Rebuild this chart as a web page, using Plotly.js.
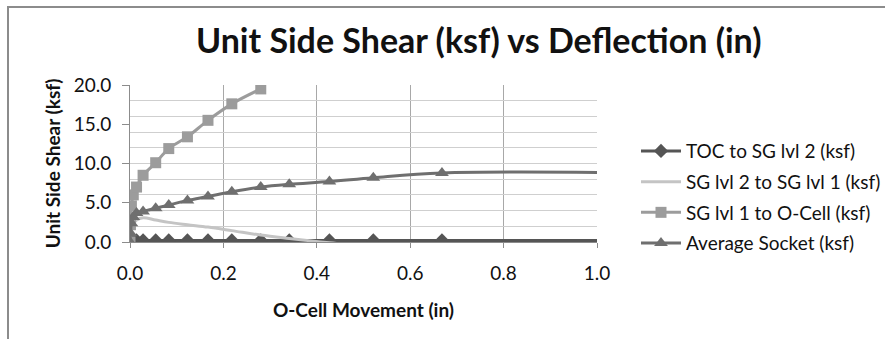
<!DOCTYPE html>
<html>
<head>
<meta charset="utf-8">
<script src="https://cdn.plot.ly/plotly-3.0.1.min.js"></script>
<style>
  html, body { margin: 0; padding: 0; background: #fff; }
  #wrap { position: relative; width: 885px; height: 339px; overflow: hidden; }
  #chart { position: absolute; left: 0; top: 0; width: 885px; height: 339px; }
  #frame { position: absolute; left: 7px; top: 6px; width: 900px; height: 400px;
           border-left: 2px solid #8c8c8c; border-top: 2px solid #8c8c8c; pointer-events: none; }
</style>
</head>
<body>
<div id="wrap">
  <div id="chart"></div>
  <div id="frame"></div>
</div>
<script>
// O-Cell movement (in), shared by all series
const movement = [0, 0.001, 0.003, 0.007, 0.014, 0.028, 0.055, 0.083, 0.123, 0.167, 0.218, 0.280, 0.341, 0.427, 0.521, 0.668, 1.2];

// Unit side shear (ksf)
const tocToSg2   = [0, 0.2, 0.2, 0.2, 0.2, 0.2, 0.2, 0.2, 0.2, 0.2, 0.2, 0.2, 0.2, 0.2, 0.2, 0.2, 0.2];
const sg2ToSg1   = [0, 0.8, 1.6, 2.3, 2.8, 3.1, 2.8, 2.5, 2.2, 1.9, 1.45, 0.88, 0.45, -0.1, -0.6, -1.2, -2.5];
const sg1ToOCell = [0, 2.2, 4.6, 6.0, 7.0, 8.5, 10.1, 11.9, 13.4, 15.5, 17.6, 19.5, null, null, null, null, null];
const avgSocket  = [0, 1.1, 2.4, 3.2, 3.7, 3.9, 4.3, 4.7, 5.3, 5.8, 6.4, 7.0, 7.35, 7.7, 8.2, 8.8, 8.75];

const seriesNames = [
  "TOC to SG lvl 2 (ksf)",
  "SG lvl 2 to SG lvl 1 (ksf)",
  "SG lvl 1 to O-Cell (ksf)",
  "Average Socket (ksf)"
];

const xTickVals = [0, 0.2, 0.4, 0.6, 0.8, 1.0];
const yTickVals = [0, 5, 10, 15, 20];
const yGridVals = [0, 2, 4, 6, 8, 10, 12, 14, 16, 18, 20];

const FONT = "Lato, 'Open Sans', sans-serif";
const TXT = "#111111";

const traces = [
  {
    x: movement, y: tocToSg2, name: seriesNames[0], type: "scatter", mode: "lines+markers",
    line: { color: "#555555", width: 3, shape: "spline" },
    marker: { symbol: "diamond", size: 11, color: "#555555" },
    legendgroup: "a", yaxis: "y"
  },
  {
    x: movement, y: sg2ToSg1, name: seriesNames[1], type: "scatter", mode: "lines",
    line: { color: "#c4c4c4", width: 3, shape: "spline" },
    legendgroup: "b", yaxis: "y"
  },
  {
    x: movement, y: sg1ToOCell, name: seriesNames[2], type: "scatter", mode: "lines+markers",
    line: { color: "#9c9c9c", width: 3, shape: "spline" },
    marker: { symbol: "square", size: 11, color: "#9c9c9c" },
    legendgroup: "c", yaxis: "y"
  },
  {
    x: movement, y: avgSocket, name: seriesNames[3], type: "scatter", mode: "lines+markers",
    line: { color: "#6f6f6f", width: 3, shape: "spline" },
    marker: { symbol: "triangle-up", size: 12, color: "#6f6f6f" },
    legendgroup: "d", yaxis: "y2"
  }
];

const layout = {
  width: 885, height: 339,
  paper_bgcolor: "#ffffff", plot_bgcolor: "#ffffff",
  margin: { l: 130, r: 288, t: 85, b: 97, autoexpand: false },
  font: { family: FONT, size: 19, color: TXT },
  showlegend: true,
  title: {
    text: "<b>Unit Side Shear (ksf) vs Deflection (in)</b>",
    font: { family: FONT, size: 34, color: TXT },
    xref: "container", x: 0.541, xanchor: "center",
    yref: "container", y: 0.878, yanchor: "middle"
  },
  legend: {
    x: 1.0835, xanchor: "left", y: 0.70, yanchor: "top",
    font: { family: FONT, size: 19, color: TXT },
    itemwidth: 40,
    traceorder: "grouped", tracegroupgap: 3,
    bgcolor: "rgba(0,0,0,0)"
  },
  xaxis: {
    range: [0, 1], tickvals: xTickVals, tickformat: ".1f",
    showgrid: true, gridcolor: "#a8a8a8", gridwidth: 1,
    showline: true, linecolor: "#8c8c8c", linewidth: 1,
    ticks: "outside", ticklen: 5, tickcolor: "#8c8c8c",
    ticklabelstandoff: 9, automargin: false,
    zeroline: false,
    tickfont: { family: FONT, size: 19, color: TXT },
    title: { text: "<b>O-Cell Movement (in)</b>", font: { family: FONT, size: 19, color: TXT }, standoff: 20 }
  },
  yaxis: {
    range: [0, 20], tickvals: yTickVals, tickformat: ".1f",
    showgrid: false, zeroline: false,
    showline: true, linecolor: "#8c8c8c", linewidth: 1,
    ticks: "outside", ticklen: 7, tickcolor: "#8c8c8c",
    ticklabelstandoff: 7, automargin: false,
    tickfont: { family: FONT, size: 19, color: TXT },
    title: { text: "<b>Unit Side Shear (ksf)</b>", font: { family: FONT, size: 19, color: TXT }, standoff: 8 }
  },
  yaxis2: {
    overlaying: "y", anchor: "x", side: "left",
    range: [0, 20], tickvals: yGridVals,
    showgrid: true, gridcolor: "#cfcfcf", gridwidth: 1,
    showticklabels: false, ticks: "", zeroline: false, showline: false
  }
};

Plotly.newPlot("chart", traces, layout, { staticPlot: true, displayModeBar: false });
</script>
</body>
</html>
